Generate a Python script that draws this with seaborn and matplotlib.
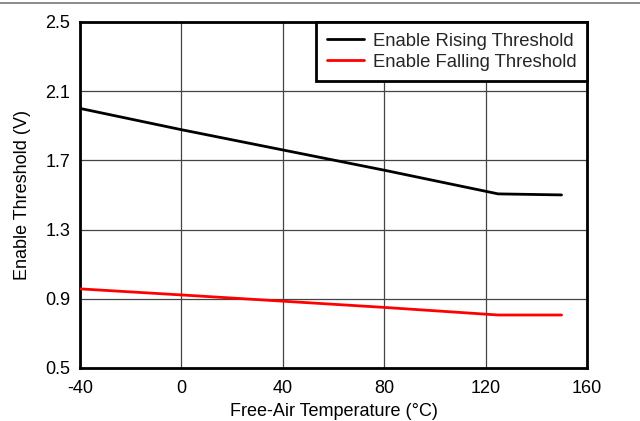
import matplotlib
matplotlib.use('Agg')
import matplotlib.pyplot as plt
from matplotlib.lines import Line2D
import seaborn as sns
import pandas as pd

# data
temperature = [-40, 0, 40, 80, 125, 150]
rising = [2.00, 1.877, 1.760, 1.643, 1.506, 1.500]
falling = [0.957, 0.922, 0.886, 0.850, 0.806, 0.806]

x_ticks = [-40, 0, 40, 80, 120, 160]
y_ticks = [0.5, 0.9, 1.3, 1.7, 2.1, 2.5]

df = pd.DataFrame({
    'Temperature': temperature * 2,
    'Threshold': rising + falling,
    'Series': ['Enable Rising Threshold'] * len(rising) + ['Enable Falling Threshold'] * len(falling),
})

sns.set_theme(style='white')
plt.rcParams['font.family'] = ['Liberation Sans', 'DejaVu Sans']

fig = plt.figure(figsize=(6.4, 4.21), dpi=100)
ax = fig.add_axes([0.125, 0.126, 0.792, 0.822])

sns.lineplot(data=df, x='Temperature', y='Threshold', hue='Series',
             palette={'Enable Rising Threshold': 'black', 'Enable Falling Threshold': '#ff0000'},
             linewidth=2, ax=ax, zorder=3)

ax.set_xlim(-40, 160)
ax.set_ylim(0.5, 2.5)
ax.set_xticks(x_ticks)
ax.set_yticks(y_ticks)
ax.set_xticklabels([str(t) for t in x_ticks])
ax.set_yticklabels(['%.1f' % t for t in y_ticks])
ax.tick_params(length=0, labelsize=13, colors='black')
ax.tick_params(axis='x', pad=9)
ax.tick_params(axis='y', pad=7)
ax.grid(True, color='#444444', linewidth=0.9)
for s in ax.spines.values():
    s.set_visible(True)
    s.set_color('black')
    s.set_linewidth(2)

ax.set_xlabel('Free-Air Temperature (°C)', fontsize=13, color='black', labelpad=4)
ax.set_ylabel('Enable Threshold (V)', fontsize=13, color='black', labelpad=10)

leg = ax.legend(loc='upper right', fontsize=13.3, frameon=True, fancybox=False,
                borderaxespad=0, handlelength=2.0, handletextpad=0.47,
                borderpad=0.58, labelspacing=0.22, title=None)
leg.get_frame().set_edgecolor('black')
leg.get_frame().set_linewidth(2)
leg.get_frame().set_alpha(1)

# separator line on top of the figure
fig.add_artist(Line2D([0, 1], [0.992, 0.992], color='#777777', linewidth=1.2))

fig.savefig('out.png', dpi=100)
